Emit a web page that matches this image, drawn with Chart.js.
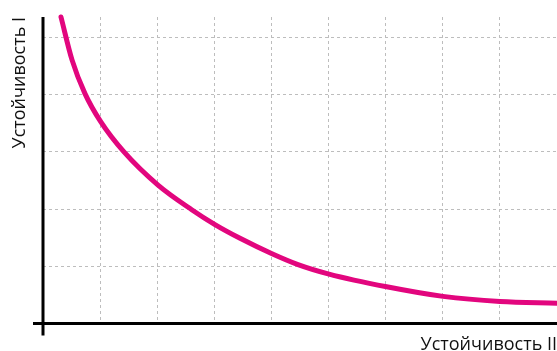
<!DOCTYPE html>
<html>
<head>
<meta charset="utf-8">
<script src="https://cdn.jsdelivr.net/npm/chart.js@4"></script>
<style>
html,body{margin:0;padding:0;background:#fff;}
#wrap{width:557px;height:351px;}
</style>
</head>
<body>
<div id="wrap"><canvas id="c" width="557" height="351"></canvas></div>
<script>
// Data
const stabilityII = [0.315, 0.508, 0.735, 1.01, 1.418, 2.014, 2.604, 3.011, 3.45, 4.01, 4.465, 5.008, 6.018, 7.005, 8.0, 9.0];
const stabilityI  = [5.36, 4.61, 4.02, 3.53, 3.0, 2.42, 1.99, 1.73, 1.49, 1.22, 1.03, 0.864, 0.642, 0.474, 0.385, 0.355];
const xTitle = 'Устойчивость II';
const yTitle = 'Устойчивость I';
const xRange = [0, 9];
const yRange = [0, 5.36];

const points = stabilityII.map((x, i) => ({x: x, y: stabilityI[i]}));

const axesPlugin = {
  id: 'axesLines',
  beforeDatasetsDraw(chart) {
    const ctx = chart.ctx;
    const xs = chart.scales.x, ys = chart.scales.y;
    const x0 = xs.getPixelForValue(xRange[0]);
    const y0 = ys.getPixelForValue(yRange[0]);
    const yTop = ys.getPixelForValue(yRange[1]);
    const xRight = xs.getPixelForValue(xRange[1]);
    ctx.save();
    ctx.strokeStyle = '#000';
    ctx.lineWidth = 3;
    ctx.lineCap = 'butt';
    ctx.beginPath();
    ctx.moveTo(x0, yTop);
    ctx.lineTo(x0, y0 + 12);
    ctx.moveTo(x0 - 10, y0);
    ctx.lineTo(xRight, y0);
    ctx.stroke();
    ctx.restore();
  }
};

const gridStyle = {
  color: '#bdbdbd',
  lineWidth: 1,
  drawTicks: false
};

new Chart(document.getElementById('c'), {
  type: 'line',
  data: {
    datasets: [{
      data: points,
      borderColor: '#e2067e',
      borderWidth: 5,
      borderCapStyle: 'round',
      borderJoinStyle: 'round',
      cubicInterpolationMode: 'monotone',
      pointRadius: 0,
      fill: false,
      clip: 8
    }]
  },
  options: {
    responsive: false,
    animation: false,
    devicePixelRatio: 1,
    layout: {padding: {top: 17, left: 0, right: 0, bottom: 0}},
    plugins: {legend: {display: false}, tooltip: {enabled: false}},
    scales: {
      x: {
        type: 'linear',
        min: xRange[0], max: xRange[1],
        ticks: {display: false, stepSize: 1, includeBounds: false},
        grid: gridStyle,
        border: {display: false, dash: [3, 3]},
        title: {
          display: true, text: xTitle, align: 'end', color: '#111',
          font: {family: '"Open Sans", sans-serif', size: 18},
          padding: {top: 0, bottom: -5}
        },
        afterFit(s) { s.height = 27.5; }
      },
      y: {
        type: 'linear',
        min: yRange[0], max: yRange[1],
        ticks: {display: false, stepSize: 1, includeBounds: false},
        grid: gridStyle,
        border: {display: false, dash: [3, 3]},
        title: {
          display: true, text: yTitle, align: 'end', color: '#111',
          font: {family: '"Open Sans", sans-serif', size: 18},
          padding: {top: 9, bottom: 0}
        },
        afterFit(s) { s.width = 43; }
      }
    }
  },
  plugins: [axesPlugin]
});
</script>
</body>
</html>
